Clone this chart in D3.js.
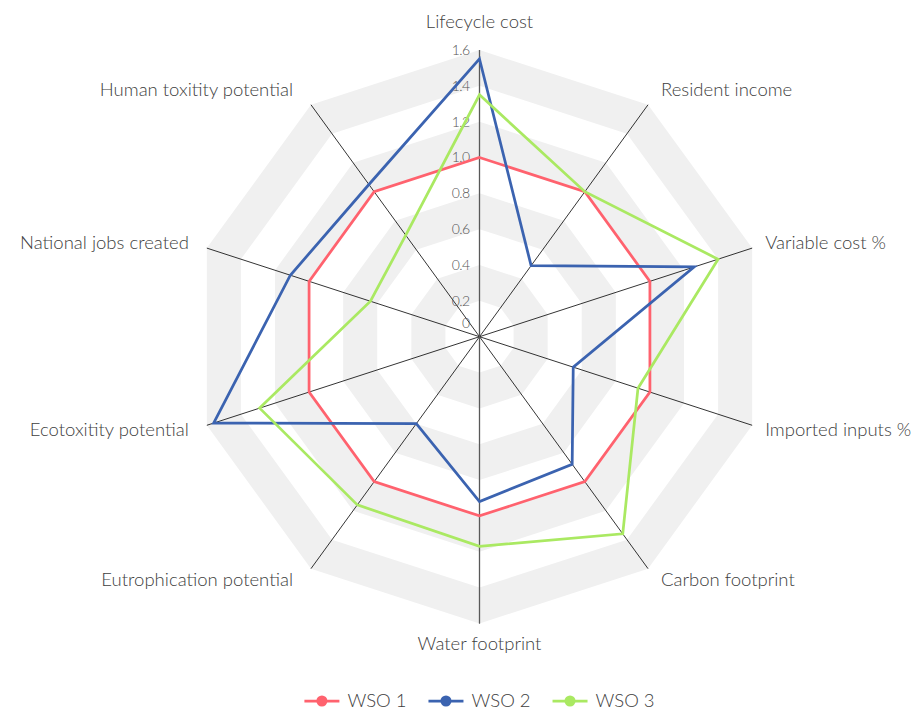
<!DOCTYPE html>
<html>
<head>
<meta charset="utf-8">
<script src="https://cdn.jsdelivr.net/npm/d3@7"></script>
<style>
  html, body { margin: 0; padding: 0; background: #ffffff; }
  svg { display: block; }
  text { font-family: Lato, "Noto Sans", sans-serif; }
</style>
</head>
<body>
<svg id="chart" width="922" height="710"></svg>
<script>
// Indicators, clockwise from the top
const categories = [
  "Lifecycle cost", "Resident income", "Variable cost %", "Imported inputs %",
  "Carbon footprint", "Water footprint", "Eutrophication potential",
  "Ecotoxitity potential", "National jobs created", "Human toxitity potential"
];
const seriesNames = ["WSO 1", "WSO 2", "WSO 3"];
const wso1 = [1.00, 1.00, 1.00, 1.00, 1.00, 1.00, 1.00, 1.00, 1.00, 1.00];
const wso2 = [1.55, 0.49, 1.26, 0.55, 0.88, 0.92, 0.60, 1.56, 1.11, 1.05];
const wso3 = [1.35, 1.00, 1.40, 0.93, 1.36, 1.17, 1.16, 1.29, 0.64, 0.70];
const tickValues = [0, 0.2, 0.4, 0.6, 0.8, 1.0, 1.2, 1.4, 1.6];
const tickLabels = ["0", "0.2", "0.4", "0.6", "0.8", "1.0", "1.2", "1.4", "1.6"];
const colors = ["#FF626E", "#3B63B0", "#AAE962"];

const svg = d3.select("#chart");
const cx = 479.5, cy = 336.7, R = 286.7;
const maxVal = 1.6;

const r = d3.scaleLinear().domain([0, maxVal]).range([0, R]);
const angle = d3.scalePoint().domain(categories).range([0, 2 * Math.PI * (1 - 1 / categories.length)]);

const g = svg.append("g").attr("transform", `translate(${cx},${cy})`);

function pt(cat, v) {
  const a = angle(cat);
  return [r(v) * Math.sin(a), -r(v) * Math.cos(a)];
}
function ringPath(v) {
  return categories.map(c => pt(c, v)).map((p, i) => (i ? "L" : "M") + p[0] + "," + p[1]).join("") + "Z";
}

// Alternating grey bands between every other pair of gridlines
const bandPairs = [[1.4, 1.6], [1.0, 1.2], [0.6, 0.8], [0.2, 0.4]];
g.selectAll("path.band").data(bandPairs).join("path")
  .attr("class", "band")
  .attr("d", d => ringPath(d[1]) + ringPath(d[0]))
  .attr("fill", "#f0f0f0")
  .attr("fill-rule", "evenodd");

// Spokes
g.selectAll("line.spoke").data(categories).join("line")
  .attr("class", "spoke")
  .attr("x1", 0).attr("y1", 0)
  .attr("x2", d => pt(d, maxVal)[0])
  .attr("y2", d => pt(d, maxVal)[1])
  .attr("stroke", "#000")
  .attr("stroke-width", 0.8);

// Vertical value axis line
g.append("line")
  .attr("x1", 0).attr("y1", -r(maxVal))
  .attr("x2", 0).attr("y2", r(maxVal))
  .attr("stroke", "#595959")
  .attr("stroke-width", 1.3);

// Value tick labels along the top spoke
g.selectAll("text.tick").data(tickValues).join("text")
  .attr("class", "tick")
  .attr("x", -10)
  .attr("y", d => -r(d) + (d === 0 ? -14 : 0))
  .attr("dy", "0.35em")
  .attr("text-anchor", "end")
  .attr("font-size", 14)
  .attr("font-weight", 300)
  .attr("fill", "#555555")
  .attr("letter-spacing", -0.6)
  .text((d, i) => tickLabels[i]);

// Series polygons
const seriesData = [wso1, wso2, wso3];
const line = d3.line().curve(d3.curveLinearClosed);
g.selectAll("path.series").data(seriesData).join("path")
  .attr("class", "series")
  .attr("d", vals => line(categories.map((c, i) => pt(c, vals[i]))))
  .attr("fill", "none")
  .attr("stroke", (d, i) => colors[i])
  .attr("stroke-width", 2.75)
  .attr("stroke-linejoin", "miter");

// Category labels, placed just beyond the end of each spoke
g.selectAll("text.cat").data(categories).join("text")
  .attr("class", "cat")
  .each(function (c) {
    const [ex, ey] = pt(c, maxVal);
    const a = angle(c);
    const s = Math.sin(a), co = Math.cos(a);
    let x, y, anchor;
    if (Math.abs(s) < 0.1) {
      anchor = "middle";
      x = ex;
      y = co > 0 ? ey - 28 : ey + 20;
    } else {
      anchor = s > 0 ? "start" : "end";
      x = ex + (s > 0 ? 13 : -18);
      y = ey + (co > 0 ? -19 * co : -13 * co);
    }
    d3.select(this)
      .attr("x", x).attr("y", y).attr("dy", "0.35em")
      .attr("text-anchor", anchor);
  })
  .attr("font-size", 18.5)
  .attr("font-weight", 300)
  .attr("fill", "#404040")
  .text(d => d);

// Legend
const legend = svg.append("g").attr("transform", "translate(0,701)");
const items = legend.selectAll("g.item").data(seriesNames).join("g").attr("class", "item");
items.append("line")
  .attr("x1", 0).attr("x2", 35).attr("y1", 0).attr("y2", 0)
  .attr("stroke", (d, i) => colors[i]).attr("stroke-width", 2.75);
items.append("circle")
  .attr("cx", 17.5).attr("cy", 0).attr("r", 5.5)
  .attr("fill", (d, i) => colors[i]);
items.append("text")
  .attr("x", 43).attr("dy", "0.35em")
  .attr("font-size", 18.5).attr("font-weight", 300).attr("fill", "#404040")
  .text(d => d);
let widths = [];
items.each(function () { widths.push(this.getBBox().width); });
const gap = 22;
const total = d3.sum(widths) + gap * (widths.length - 1);
let xpos = cx - total / 2;
items.each(function (d, i) {
  d3.select(this).attr("transform", `translate(${xpos},0)`);
  xpos += widths[i] + gap;
});
</script>
</body>
</html>
